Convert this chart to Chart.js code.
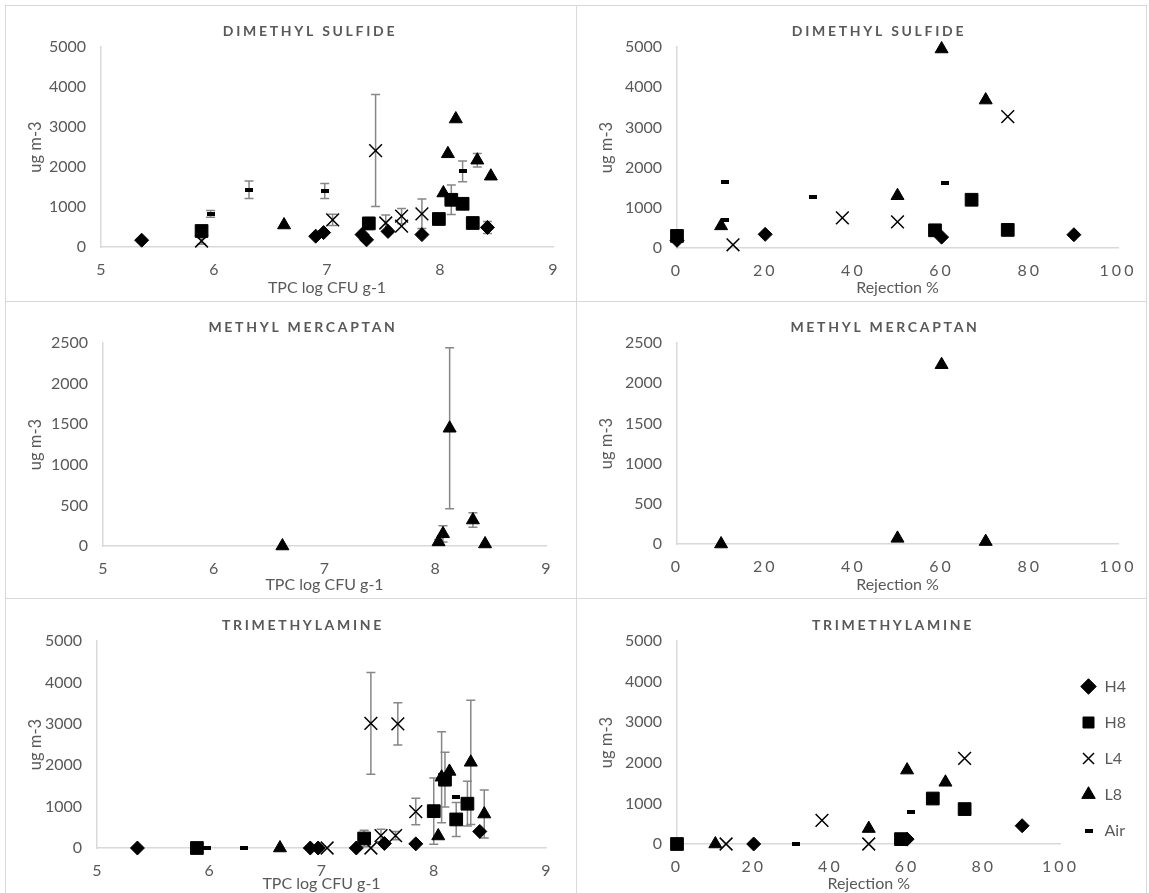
<!DOCTYPE html>
<html>
<head>
<meta charset="utf-8">
<script src="https://cdn.jsdelivr.net/npm/chart.js@4.4.0/dist/chart.umd.min.js"></script>
<style>
  html, body { margin: 0; background: #fff; overflow: hidden; }
  .panel { position: absolute; box-sizing: border-box; border: 1px solid #d9d9d9; }
  .panel canvas { position: absolute; left: -1px; top: -1px; }
</style>
</head>
<body>
<div class="panel" style="left:5px;top:5px;width:572px;height:297px"><canvas id="dmsTpc" width="572" height="297"></canvas></div>
<div class="panel" style="left:576px;top:5px;width:571px;height:297px"><canvas id="dmsRej" width="571" height="297"></canvas></div>
<div class="panel" style="left:5px;top:301px;width:572px;height:298px"><canvas id="meshTpc" width="572" height="298"></canvas></div>
<div class="panel" style="left:576px;top:301px;width:571px;height:298px"><canvas id="meshRej" width="571" height="298"></canvas></div>
<div class="panel" style="left:5px;top:598px;width:572px;height:300px"><canvas id="tmaTpc" width="572" height="300"></canvas></div>
<div class="panel" style="left:576px;top:598px;width:571px;height:300px"><canvas id="tmaRej" width="571" height="300"></canvas></div>

<script>
// points are [x, y, ± error bar] ; x = TPC log CFU g-1 or Rejection %, y = ug m-3

// Dimethyl sulfide vs TPC
const dmsTpcH4 = [[5.36, 170], [6.90, 270], [6.97, 360], [7.31, 310], [7.35, 180], [7.54, 390], [7.84, 310], [8.42, 490, 150]];
const dmsTpcH8 = [[5.89, 400], [7.37, 590, 150], [7.99, 700], [8.10, 1180, 370], [8.20, 1080], [8.29, 600, 100]];
const dmsTpcL4 = [[5.89, 150, 80], [7.05, 680, 140], [7.43, 2410, 1400], [7.52, 600, 200], [7.66, 770, 190], [7.66, 520], [7.84, 830, 370]];
const dmsTpcL8 = [[6.62, 550], [8.03, 1350], [8.07, 2330], [8.14, 3200], [8.33, 2170, 170], [8.45, 1770]];
const dmsTpcAir = [[5.97, 830, 85], [6.31, 1430, 220], [6.98, 1400, 190], [8.20, 1890, 260]];

// Dimethyl sulfide vs rejection
const dmsRejH4 = [[0, 190], [20, 340], [60, 270], [90, 330]];
const dmsRejH8 = [[0, 300], [58.5, 440], [66.8, 1200], [75, 450]];
const dmsRejL4 = [[12.7, 80], [37.5, 750], [50, 650], [75, 3270]];
const dmsRejL8 = [[10, 550], [50, 1300], [60, 4950], [70, 3680]];
const dmsRejAir = [[10.8, 1650], [10.8, 700], [30.8, 1270], [60.8, 1620]];

// Methyl mercaptan (only L8 detected)
const meshTpcL8 = [[6.62, 0], [8.03, 50, 30], [8.07, 150, 100], [8.13, 1450, 990], [8.34, 320, 90], [8.45, 25]];
const meshRejL8 = [[10, 0], [50, 70], [60, 2230], [70, 30]];

// Trimethylamine vs TPC
const tmaTpcH4 = [[5.36, 0], [6.90, 0], [6.97, 0], [7.31, 0], [7.56, 110], [7.84, 100], [8.41, 400]];
const tmaTpcH8 = [[5.89, 0], [7.38, 230, 200], [8.00, 890, 800], [8.10, 1650, 660], [8.20, 690, 410], [8.30, 1070, 540]];
const tmaTpcL4 = [[7.05, 0], [7.44, 0], [7.44, 3010, 1230], [7.53, 300, 150], [7.66, 300, 100], [7.68, 3000, 510], [7.84, 880, 320]];
const tmaTpcL8 = [[6.63, 0], [8.04, 290], [8.07, 1710, 1100], [8.14, 1850], [8.33, 2070, 1500], [8.45, 820, 580]];
const tmaTpcAir = [[5.98, 0], [6.31, 0], [8.20, 1230]];

// Trimethylamine vs rejection
const tmaRejH4 = [[20, 0], [60, 120], [90, 450]];
const tmaRejH8 = [[0, 0], [58.4, 120], [66.7, 1120], [75, 860]];
const tmaRejL4 = [[12.8, 0], [37.8, 580], [50, 0], [75, 2110]];
const tmaRejL8 = [[10, 0], [50, 380], [60, 1820], [70, 1520]];
const tmaRejAir = [[31, 0], [61, 800]];

const tpcTicks = [5, 9, 1];
const rejTicks = [0, 100, 20];

const grey = '#595959';
Chart.defaults.font.family = 'Lato, "Open Sans", sans-serif';
Chart.defaults.font.size = 16;
Chart.defaults.color = grey;

// little black dash used for the Air series
const airDash = document.createElement('canvas');
airDash.width = 8;
airDash.height = 4;
airDash.getContext('2d').fillRect(0, 0, 8, 4);

const markers = {
  H4: { style: 'rectRot', radius: 7 },
  H8: { style: 'rect', radius: 9 },
  L4: { style: 'crossRot', radius: 9 },
  L8: { style: 'triangle', radius: 7.5 },
  Air: { style: airDash, radius: 4 }
};
const seriesOrder = ['H4', 'H8', 'L4', 'L8', 'Air'];

function series(name, pts) {
  const m = markers[name];
  return {
    label: name,
    data: pts.map(p => ({ x: p[0], y: p[1] })),
    errors: pts.map(p => p[2] || 0),
    pointStyle: m.style,
    pointRadius: m.radius,
    backgroundColor: '#000',
    borderColor: '#000',
    borderWidth: name === 'L4' ? 1.5 : 1,
    showLine: false,
    clip: false,
    // later series are painted on top, like the original
    order: seriesOrder.length - seriesOrder.indexOf(name)
  };
}

// vertical error bars with caps, under the markers
const errorBars = {
  id: 'errorBars',
  beforeDatasetsDraw(chart) {
    const { ctx, scales: { x, y } } = chart;
    ctx.save();
    ctx.strokeStyle = '#878787';
    ctx.lineWidth = 1.5;
    chart.data.datasets.forEach(ds => {
      ds.data.forEach((p, i) => {
        const e = ds.errors[i];
        if (!e) return;
        const px = x.getPixelForValue(p.x);
        const hi = y.getPixelForValue(p.y + e);
        const lo = y.getPixelForValue(p.y - e);
        ctx.beginPath();
        ctx.moveTo(px, hi); ctx.lineTo(px, lo);
        ctx.moveTo(px - 4.5, hi); ctx.lineTo(px + 4.5, hi);
        ctx.moveTo(px - 4.5, lo); ctx.lineTo(px + 4.5, lo);
        ctx.stroke();
      });
    });
    ctx.restore();
  }
};

// spaced-out bold panel title
const panelTitle = {
  id: 'panelTitle',
  afterDraw(chart, args, opts) {
    const ctx = chart.ctx;
    ctx.save();
    ctx.font = 'bold 14px Lato, "Open Sans", sans-serif';
    ctx.letterSpacing = '2.7px';
    ctx.fillStyle = grey;
    ctx.textAlign = 'center';
    ctx.textBaseline = 'middle';
    ctx.fillText(opts.text, opts.x, opts.y);
    ctx.restore();
  }
};

// the rejection % axis labels are letter-spaced in the original
const spacedTicks = {
  id: 'spacedTicks',
  beforeDraw(chart, args, opts) {
    const sc = chart.scales.x;
    if (!opts.spacing || sc._spacedLabels) return;
    const drawLabels = sc.drawLabels.bind(sc);
    sc.drawLabels = function (area) {
      chart.ctx.save();
      chart.ctx.letterSpacing = opts.spacing;
      drawLabels(area);
      chart.ctx.restore();
    };
    sc._spacedLabels = true;
  }
};

function makePanel(id, p) {
  const canvas = document.getElementById(id);
  const W = canvas.width, H = canvas.height;
  const padBottom = p.padBottom || 0;
  const axisLine = { color: '#d9d9d9', width: 1.5 };
  const chart = new Chart(canvas, {
    type: 'scatter',
    data: { datasets: p.datasets },
    options: {
      responsive: false,
      animation: false,
      events: [],
      layout: { padding: { top: p.area.top, left: 0, right: W - p.area.right - (p.legend ? 62 : 0), bottom: padBottom } },
      plugins: {
        legend: p.legend ? {
          position: 'right',
          reverse: true,
          labels: { usePointStyle: true, boxHeight: 11, padding: 20, color: grey, font: { size: 16 } }
        } : { display: false },
        tooltip: { enabled: false },
        panelTitle: { text: p.title, x: p.titleX, y: p.titleY },
        spacedTicks: { spacing: p.tickSpacing || '' }
      },
      scales: {
        x: {
          type: 'linear',
          min: p.xTicks[0], max: p.xTicks[1],
          ticks: { stepSize: p.xTicks[2], padding: 13 },
          grid: { display: false, drawTicks: false },
          border: axisLine,
          title: { display: true, text: p.xTitle, padding: { top: 0, bottom: p.xTitlePad } },
          afterFit: s => { s.height = H - padBottom - p.area.bottom; }
        },
        y: {
          min: 0, max: p.yMax,
          ticks: { stepSize: p.yStep, padding: 15, callback: v => String(v) },
          grid: { display: false, drawTicks: false },
          border: axisLine,
          title: { display: true, text: 'ug m-3', padding: { top: 21, bottom: 0 }, font: { size: 16.5 } },
          afterFit: s => { s.width = p.area.left; }
        }
      }
    },
    plugins: [errorBars, panelTitle, spacedTicks]
  });
  if (p.legend) {
    // legend width depends on text, so nudge the plot edge into place
    chart.options.layout.padding.right += chart.chartArea.right - p.area.right;
    chart.update();
  }
  return chart;
}

makePanel('dmsTpc', {
  title: 'DIMETHYL SULFIDE', titleX: 305, titleY: 26,
  xTitle: 'TPC log CFU g-1', xTicks: tpcTicks, yMax: 5000, yStep: 1000, xTitlePad: 4.5,
  area: { left: 96, top: 42, right: 548, bottom: 242 },
  datasets: [series('H4', dmsTpcH4), series('H8', dmsTpcH8), series('L4', dmsTpcL4), series('L8', dmsTpcL8), series('Air', dmsTpcAir)]
});

makePanel('dmsRej', {
  title: 'DIMETHYL SULFIDE', titleX: 303, titleY: 26,
  xTitle: 'Rejection %', xTicks: rejTicks, yMax: 5000, yStep: 1000, xTitlePad: 4.5, tickSpacing: '3px',
  area: { left: 101, top: 42, right: 542, bottom: 243 },
  datasets: [series('H4', dmsRejH4), series('H8', dmsRejH8), series('L4', dmsRejL4), series('L8', dmsRejL8), series('Air', dmsRejAir)]
});

makePanel('meshTpc', {
  title: 'METHYL MERCAPTAN', titleX: 298, titleY: 26.5,
  xTitle: 'TPC log CFU g-1', xTicks: tpcTicks, yMax: 2500, yStep: 500, xTitlePad: 4.5,
  area: { left: 98, top: 42, right: 541, bottom: 245 },
  datasets: [series('L8', meshTpcL8)]
});

makePanel('meshRej', {
  title: 'METHYL MERCAPTAN', titleX: 309, titleY: 26.5,
  xTitle: 'Rejection %', xTicks: rejTicks, yMax: 2500, yStep: 500, xTitlePad: 4.5, tickSpacing: '3px',
  area: { left: 101, top: 42, right: 542, bottom: 243 },
  datasets: [series('L8', meshRejL8)]
});

makePanel('tmaTpc', {
  title: 'TRIMETHYLAMINE', titleX: 298, titleY: 27,
  xTitle: 'TPC log CFU g-1', xTicks: tpcTicks, yMax: 5000, yStep: 1000, xTitlePad: 5,
  area: { left: 92, top: 43, right: 541, bottom: 250 },
  datasets: [series('H4', tmaTpcH4), series('H8', tmaTpcH8), series('L4', tmaTpcL4), series('L8', tmaTpcL8), series('Air', tmaTpcAir)]
});

makePanel('tmaRej', {
  title: 'TRIMETHYLAMINE', titleX: 317, titleY: 27,
  xTitle: 'Rejection %', xTicks: rejTicks, yMax: 5000, yStep: 1000, xTitlePad: -17, padBottom: 22, tickSpacing: '3px',
  area: { left: 101, top: 43, right: 484.5, bottom: 246 },
  legend: true,
  datasets: [series('H4', tmaRejH4), series('H8', tmaRejH8), series('L4', tmaRejL4), series('L8', tmaRejL8), series('Air', tmaRejAir)]
});
</script>
</body>
</html>
